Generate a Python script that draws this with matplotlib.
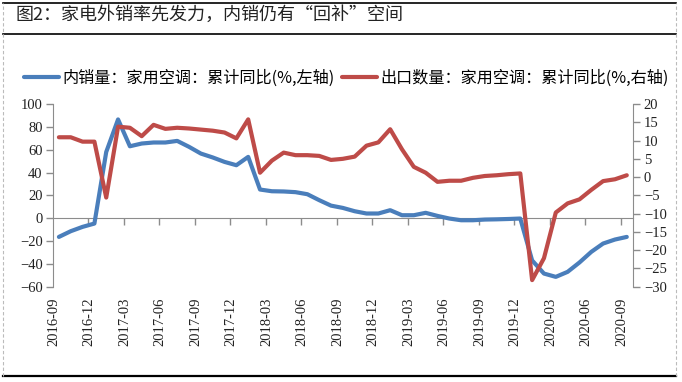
import numpy as np
import pandas as pd
import matplotlib
matplotlib.use("Agg")
import matplotlib.pyplot as plt
from matplotlib.lines import Line2D

# 月份 2016-09 ~ 2020-09
meses = pd.date_range("2016-09-01", "2020-09-01", freq="MS").strftime("%Y-%m").tolist()

# 内销量：家用空调：累计同比(%) 左轴
neixiao = [-16.4, -11.4, -7.6, -4.7, 58.0, 86.5, 63.0, 65.4, 66.3, 66.3,
           67.7, 62.5, 56.6, 53.2, 49.3, 46.4, 53.7, 25.1, 23.6, 23.4,
           22.8, 21.0, 15.8, 11.0, 9.0, 6.1, 4.1, 4.1, 7.0, 2.6,
           2.6, 4.7, 2.0, -0.3, -1.8, -1.8, -1.2, -1.0, -0.7, -0.3,
           -37.0, -48.5, -51.4, -47.0, -38.8, -29.5, -22.2, -18.7, -16.4]

# 出口数量：家用空调：累计同比(%) 右轴
chukou = [10.9, 10.9, 9.7, 9.7, -5.6, 13.8, 13.5, 11.2, 14.3, 13.2,
          13.5, 13.3, 13.0, 12.7, 12.2, 10.6, 15.8, 1.2, 4.5, 6.7,
          6.0, 6.0, 5.8, 4.7, 5.0, 5.6, 8.6, 9.5, 13.1, 7.6,
          2.8, 1.2, -1.3, -1.0, -1.0, -0.2, 0.3, 0.5, 0.8, 1.0,
          -28.2, -22.2, -9.7, -7.2, -6.1, -3.5, -1.1, -0.6, 0.5]

titulo = "图2：家电外销率先发力，内销仍有“回补”空间"
leyenda = ["内销量：家用空调：累计同比(%,左轴)", "出口数量：家用空调：累计同比(%,右轴)"]

azul = "#4A7EBB"
rojo = "#BE4B48"
gris = "#8C8C8C"
cjk = ["Noto Sans CJK SC", "DejaVu Sans"]
serif = "Liberation Serif"

x = np.arange(len(meses))

fig = plt.figure(figsize=(6.82, 3.82), dpi=100)
ax = fig.add_axes([0.0777, 0.2495, 0.85, 0.4782])
ax2 = ax.twinx()

l1, = ax.plot(x, neixiao, color=azul, lw=3.0, solid_joinstyle="round", solid_capstyle="round")
l2, = ax2.plot(x, chukou, color=rojo, lw=3.0, solid_joinstyle="round", solid_capstyle="round")

ax.set_xlim(-0.5, len(meses) - 0.5)
ax.set_ylim(-60, 100)
ax.set_yticks(np.arange(-60, 101, 20))
ax2.set_ylim(-30, 20)
ax2.set_yticks(np.arange(-30, 21, 5))

# etiquetas del eje x abajo, cada 3 meses
pos = x[::3]
ax.set_xticks(pos - 0.45)
ax.set_xticklabels([meses[i] for i in pos], rotation=90, fontsize=10.5,
                   family=serif, color="#222222")
ax.tick_params(axis="x", length=0, pad=8)

# eje horizontal en y=0 con marcas entre categorias
sec = ax.secondary_xaxis(60 / 160)
sec.set_xticks([])
sec.set_xticks(np.arange(2.5, len(meses) - 1, 3), minor=True)
sec.tick_params(which="minor", length=5, width=1, color=gris, direction="out")
for s in sec.spines.values():
    s.set_color(gris)

for a in (ax, ax2):
    for s in a.spines.values():
        s.set_visible(False)
ax.spines["left"].set_visible(True)
ax.spines["left"].set_color(gris)
ax2.spines["right"].set_visible(True)
ax2.spines["right"].set_color(gris)

ax.tick_params(axis="y", length=5, width=1, color=gris, pad=2.5,
               labelsize=10.5, labelcolor="#222222")
ax2.tick_params(axis="y", length=5, width=1, color=gris, pad=3,
                labelsize=10.5, labelcolor="#222222")
for lab in ax.get_yticklabels() + ax2.get_yticklabels():
    lab.set_family(serif)

fig.legend([l1, l2], leyenda, loc="center", bbox_to_anchor=(0.508, 0.796),
           ncol=2, frameon=False, prop={"family": cjk, "size": 11.6},
           handlelength=2.2, handletextpad=0.2, columnspacing=0.45)

fig.text(0.022, 0.96, titulo, family=cjk, fontsize=13, va="center", ha="left",
         color="#222222")

# marco
fig.add_artist(Line2D([0.0044, 0.991], [0.993, 0.993], color="black", lw=1.2))
fig.add_artist(Line2D([0.0044, 0.991], [0.911, 0.911], color="black", lw=1.2))
fig.add_artist(Line2D([0.0044, 0.991], [0.016, 0.016], color="black", lw=1.6))
fig.add_artist(Line2D([0.0044, 0.0044], [0.016, 0.993], color="#BBBBBB", lw=0.8, ls=(0, (3, 2))))
fig.add_artist(Line2D([0.991, 0.991], [0.016, 0.993], color="#BBBBBB", lw=0.8, ls=(0, (3, 2))))

fig.savefig("out.png", dpi=100)
